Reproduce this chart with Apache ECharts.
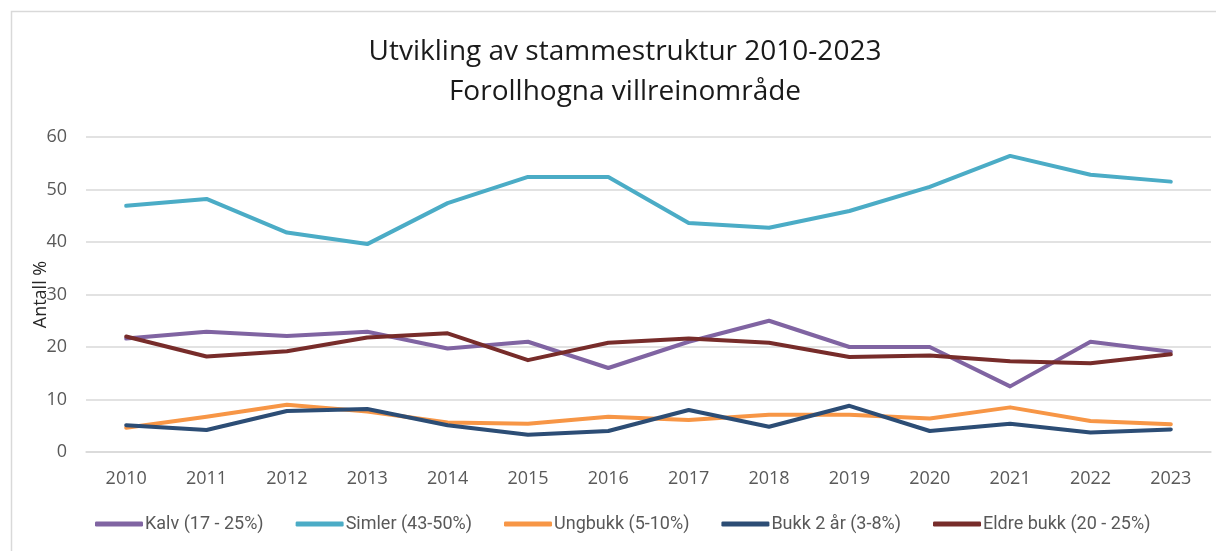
<!DOCTYPE html>
<html>
<head>
<meta charset="utf-8">
<title>Utvikling av stammestruktur</title>
<script src="https://cdn.jsdelivr.net/npm/echarts@6/dist/echarts.min.js"></script>
<style>
  html, body { margin: 0; padding: 0; background: #fff; }
  #chart { width: 1216px; height: 551px; }
</style>
</head>
<body>
<div id="chart"></div>
<script>
// data
const years = ['2010', '2011', '2012', '2013', '2014', '2015', '2016', '2017', '2018', '2019', '2020', '2021', '2022', '2023']
const kalv = [21.6, 22.9, 22.1, 22.9, 19.7, 21.0, 16.0, 21.0, 25.0, 20.0, 20.0, 12.5, 21.0, 19.1]
const simler = [46.9, 48.2, 41.8, 39.6, 47.4, 52.4, 52.4, 43.6, 42.7, 45.9, 50.5, 56.4, 52.8, 51.5]
const ungbukk = [4.6, 6.7, 9.0, 7.7, 5.6, 5.4, 6.7, 6.1, 7.1, 7.1, 6.4, 8.5, 5.9, 5.3]
const bukk2 = [5.1, 4.2, 7.8, 8.2, 5.1, 3.3, 4.0, 8.0, 4.8, 8.8, 4.0, 5.4, 3.7, 4.3]
const eldre = [22.0, 18.2, 19.2, 21.8, 22.6, 17.5, 20.8, 21.6, 20.8, 18.1, 18.4, 17.3, 16.9, 18.6]

const seriesDefs = [
  { name: 'Kalv (17 - 25%)', data: kalv, color: '#8064A2' },
  { name: 'Simler (43-50%)', data: simler, color: '#4BACC6' },
  { name: 'Ungbukk (5-10%)', data: ungbukk, color: '#F79646' },
  { name: 'Bukk 2 år (3-8%)', data: bukk2, color: '#2C4D75' },
  { name: 'Eldre bukk (20 - 25%)', data: eldre, color: '#772C2A' }
]

const font = 'Open Sans'

function lineSeries (def) {
  return {
    name: def.name,
    type: 'line',
    data: def.data,
    symbol: 'none',
    color: def.color,
    lineStyle: { width: 4, color: def.color, cap: 'round', join: 'round' }
  }
}

const option = {
  animation: false,
  backgroundColor: '#fff',
  title: {
    text: 'Utvikling av stammestruktur 2010-2023\nForollhogna villreinområde',
    left: 620,
    textAlign: 'center',
    top: 27,
    textStyle: {
      fontFamily: font,
      fontSize: 28,
      fontWeight: 'normal',
      color: '#1a1a1a',
      lineHeight: 40
    }
  },
  graphic: [{
    type: 'rect',
    shape: { x: 11.5, y: 11.5, width: 1300, height: 700 },
    style: { fill: 'none', stroke: '#d9d9d9', lineWidth: 1.5 },
    silent: true
  }],
  legend: {
    bottom: 13,
    left: 90,
    itemWidth: 48,
    itemHeight: 5,
    itemGap: 32,
    icon: 'roundRect',
    textStyle: { fontFamily: 'Roboto', fontSize: 18, color: '#595959', padding: [0, 0, 0, -3] },
    data: seriesDefs.map(d => d.name)
  },
  grid: { left: 86, right: 5, top: 137, bottom: 99 },
  xAxis: {
    type: 'category',
    data: years,
    boundaryGap: true,
    axisLine: { lineStyle: { color: '#d9d9d9', width: 1.5 } },
    axisTick: { show: false },
    axisLabel: { fontFamily: font, fontSize: 18, color: '#595959', margin: 18 }
  },
  yAxis: {
    type: 'value',
    min: 0,
    max: 60,
    interval: 10,
    name: 'Antall %',
    nameLocation: 'middle',
    nameGap: 36,
    nameMoveOverlap: false,
    nameTextStyle: { fontFamily: font, fontSize: 18, color: '#262626' },
    axisLine: { show: false },
    axisTick: { show: false },
    axisLabel: { fontFamily: font, fontSize: 18, color: '#595959', margin: 19 },
    splitLine: { lineStyle: { color: '#d9d9d9', width: 1.5 } }
  },
  series: seriesDefs.map(lineSeries)
}

const chart = echarts.init(document.getElementById('chart'))
chart.setOption(option)
</script>
</body>
</html>
